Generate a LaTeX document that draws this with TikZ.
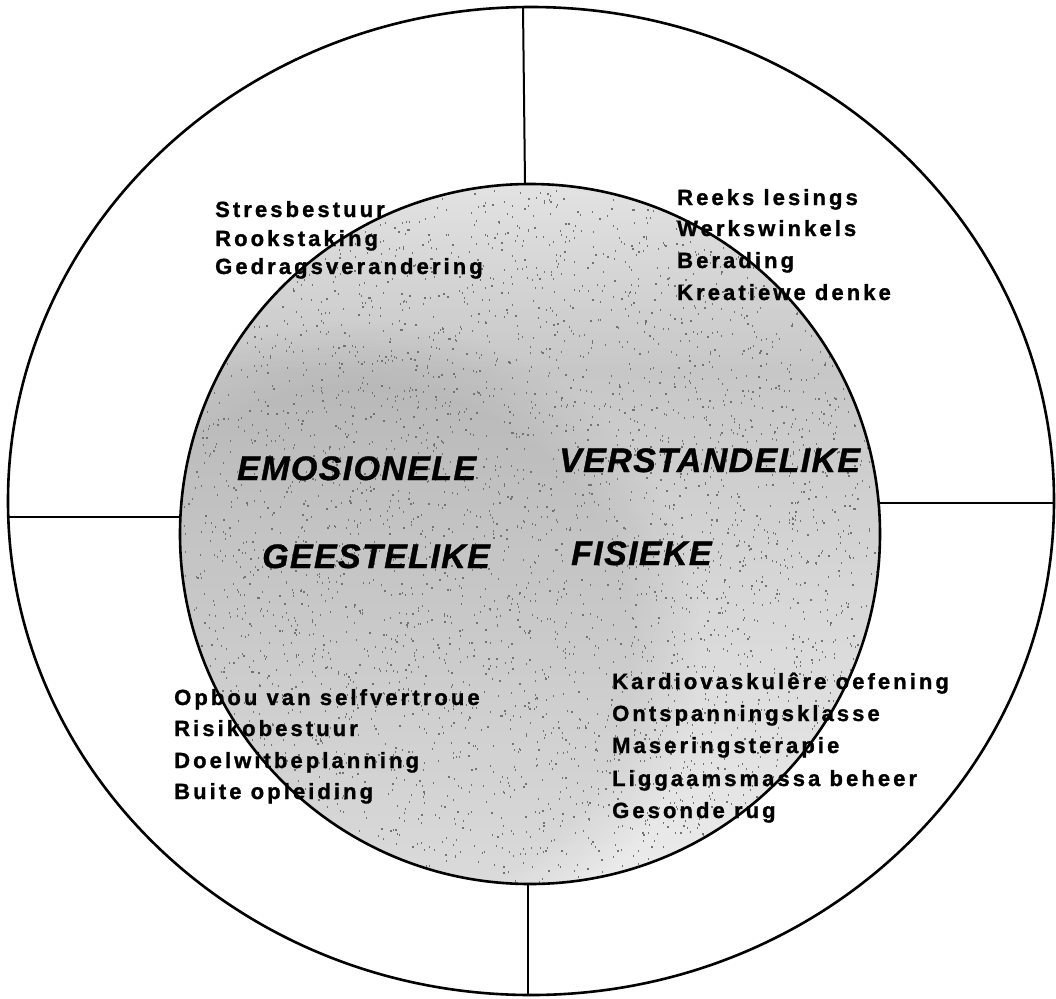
\documentclass[tikz,border=0pt]{standalone}
\usepackage{fontspec}
\usetikzlibrary{fadings}
\newfontfamily\smallf[LetterSpace=14, FakeBold=1.2]{Liberation Sans Bold}
\newfontfamily\bigf[LetterSpace=4, FakeBold=1]{Liberation Sans Bold Italic}
\begin{document}
\begin{tikzpicture}[x=1pt,y=-1pt,
  item/.style={anchor=base west, inner sep=0pt, font=\smallf\fontsize{22}{26}\selectfont},
  area/.style={anchor=base west, inner sep=0pt, font=\bigf\fontsize{34}{40}\selectfont},
  divider/.style={line width=2pt},
  ring/.style={line width=2.6pt},
  speck/.style={fill=black!55}]
\useasboundingbox (0,0) rectangle (1056,998);
\fill[white] (0,0) rectangle (1056,998);
% shaded inner disc
\begin{scope}
  \clip (530,534) circle[radius=350pt];
  \shade[top color=gray!22, bottom color=gray!44] (170,180) rectangle (890,371);
  \shade[top color=gray!44, bottom color=gray!15] (170,370) rectangle (890,890);
  \fill[black, opacity=0.07, path fading=circle with fuzzy edge 20 percent] (360,650) ellipse [x radius=340pt, y radius=330pt];
  \pgfmathsetseed{7}
  \foreach \i in {1,...,3400} {
    \pgfmathsetmacro\rr{348*sqrt(rnd)}
    \pgfmathsetmacro\aa{360*rnd}
    \pgfmathsetmacro\px{530+\rr*cos(\aa)}
    \pgfmathsetmacro\py{534+\rr*sin(\aa)}
    \fill[speck] (\px,\py) rectangle ++(1.2,2);
  }
\end{scope}
% circles
\draw[ring] (531,501) ellipse [x radius=523pt, y radius=494pt];
\draw[ring] (530,534) circle[radius=350pt];
% dividers
\coordinate (otop) at (523,7);
\coordinate (itop) at (525,184);
\coordinate (ibot) at (528,884);
\coordinate (obot) at (528,995);
\coordinate (oleft) at (8,517);
\coordinate (ileft) at (180,517);
\coordinate (iright) at (879,503);
\coordinate (oright) at (1054,503);
\draw[divider] (otop) -- (itop);
\draw[divider] (ibot) -- (obot);
\draw[divider] (oleft) -- (ileft);
\draw[divider] (iright) -- (oright);
% top left
\node[item] (tl1) at (215,217) {Stresbestuur};
\node[item] (tl2) at (215,246) {Rookstaking};
\node[item] (tl3) at (215,274) {Gedragsverandering};
% top right
\node[item] (tr1) at (677,205) {Reeks lesings};
\node[item] (tr2) at (677,236) {Werkswinkels};
\node[item] (tr3) at (677,268) {Berading};
\node[item] (tr4) at (677,300) {Kreatiewe denke};
% bottom left
\node[item] (bl1) at (174,705) {Opbou van selfvertroue};
\node[item] (bl2) at (174,736) {Risikobestuur};
\node[item] (bl3) at (174,768) {Doelwitbeplanning};
\node[item] (bl4) at (174,799) {Buite opleiding};
% bottom right
\node[item] (br1) at (612,689) {Kardiovaskulêre oefening};
\node[item] (br2) at (612,721) {Ontspanningsklasse};
\node[item] (br3) at (612,753) {Maseringsterapie};
\node[item] (br4) at (612,786) {Liggaamsmassa beheer};
\node[item] (br5) at (612,818) {Gesonde rug};
% area labels
\node[area] (emo) at (237,480) {EMOSIONELE};
\node[area] (ver) at (559,472) {VERSTANDELIKE};
\node[area] (gee) at (262,568) {GEESTELIKE};
\node[area] (fis) at (571,565) {FISIEKE};
\end{tikzpicture}
\end{document}
